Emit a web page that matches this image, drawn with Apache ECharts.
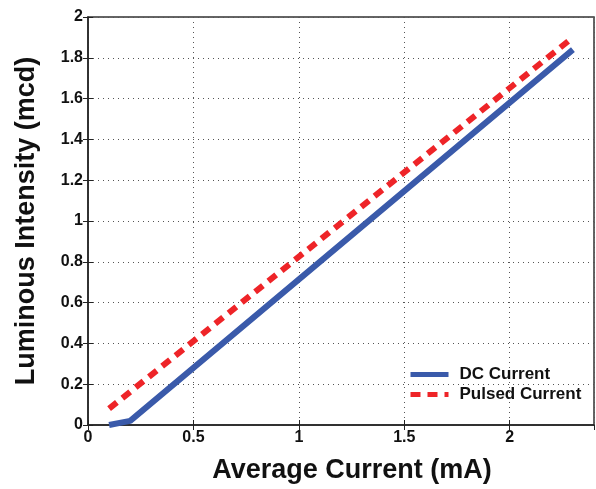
<!DOCTYPE html>
<html>
<head>
<meta charset="utf-8">
<script src="https://cdn.jsdelivr.net/npm/echarts@6/dist/echarts.min.js"></script>
<style>
	html, body { margin: 0; padding: 0; background: #fff; }
	#chart { width: 596px; height: 489px; }
</style>
</head>
<body>
<div id="chart"></div>
<script>
// 数据
const dcCurrent = [[0.1, 0], [0.2, 0.02], [2.3, 1.84]];
const pulsedCurrent = [[0.1, 0.08], [2.3, 1.9]];
const seriesNames = ['DC Current', 'Pulsed Current'];

(function () {
	let myChart = echarts.init(document.getElementById('chart'))
	const font = 'Liberation Sans, Arial, sans-serif'
	const tickLabel = { color: '#111', fontSize: 16, fontWeight: 'bold', fontFamily: font }
	const nameStyle = { color: '#111', fontSize: 27, fontWeight: 'bold', fontFamily: font }
	// 只显示刻度的辅助轴（上、右）
	const mirrorTick = { show: true, inside: true, length: 5, lineStyle: { color: '#222' } }
	const option = {
		animation: false,
		grid: {
			left: 88, right: 2, top: 17, bottom: 63,
			show: true,
			borderColor: '#333',
			borderWidth: 1.5
		},
		legend: {
			data: seriesNames,
			orient: 'vertical',
			left: 408,
			top: 366,
			padding: 0,
			itemWidth: 38,
			itemHeight: 10,
			itemGap: 3,
			itemStyle: { opacity: 0 },
			lineStyle: { width: 5 },
			textStyle: { color: '#111', fontSize: 17, fontWeight: 'bold', fontFamily: font, padding: [0, 0, 0, 6] }
		},
		xAxis: [
			{
				type: 'value',
				min: 0, max: 2.4, interval: 0.5,
				name: 'Average Current (mA)',
				nameLocation: 'middle',
				nameGap: 32,
				nameTextStyle: Object.assign({ padding: [0, 0, 0, 22] }, nameStyle),
				axisLine: { show: true, lineStyle: { color: '#222', width: 1.5 } },
				axisTick: { show: true, inside: true, length: 5, lineStyle: { color: '#222' } },
				axisLabel: Object.assign({ margin: 5, showMaxLabel: false }, tickLabel),
				splitLine: { show: true, lineStyle: { color: '#555', type: [1, 4] } }
			},
			{
				type: 'value', position: 'top',
				min: 0, max: 2.4, interval: 0.5,
				axisLine: { show: false },
				axisTick: mirrorTick,
				axisLabel: { show: false },
				splitLine: { show: false }
			}
		],
		yAxis: [
			{
				type: 'value',
				min: 0, max: 2, interval: 0.2,
				name: 'Luminous Intensity (mcd)',
				nameLocation: 'middle',
				nameGap: 48,
				nameTextStyle: nameStyle,
				axisLine: { show: true, lineStyle: { color: '#222', width: 1.5 } },
				axisTick: { show: true, inside: true, length: 5, lineStyle: { color: '#222' } },
				axisLabel: Object.assign({ margin: 5 }, tickLabel),
				splitLine: { show: true, lineStyle: { color: '#555', type: [1, 4] } }
			},
			{
				type: 'value', position: 'right',
				min: 0, max: 2, interval: 0.2,
				axisLine: { show: false },
				axisTick: mirrorTick,
				axisLabel: { show: false },
				splitLine: { show: false }
			}
		],
		series: [
			{
				name: seriesNames[0],
				type: 'line',
				data: dcCurrent,
				symbol: 'none',
				lineStyle: { color: '#3a5aaa', width: 6 },
				itemStyle: { color: '#3a5aaa' },
				z: 3
			},
			{
				name: seriesNames[1],
				type: 'line',
				data: pulsedCurrent,
				symbol: 'none',
				lineStyle: { color: '#ee2428', width: 6, type: [10, 7] },
				itemStyle: { color: '#ee2428' },
				z: 4
			}
		]
	};
	myChart.setOption(option)
})();
</script>
</body>
</html>
